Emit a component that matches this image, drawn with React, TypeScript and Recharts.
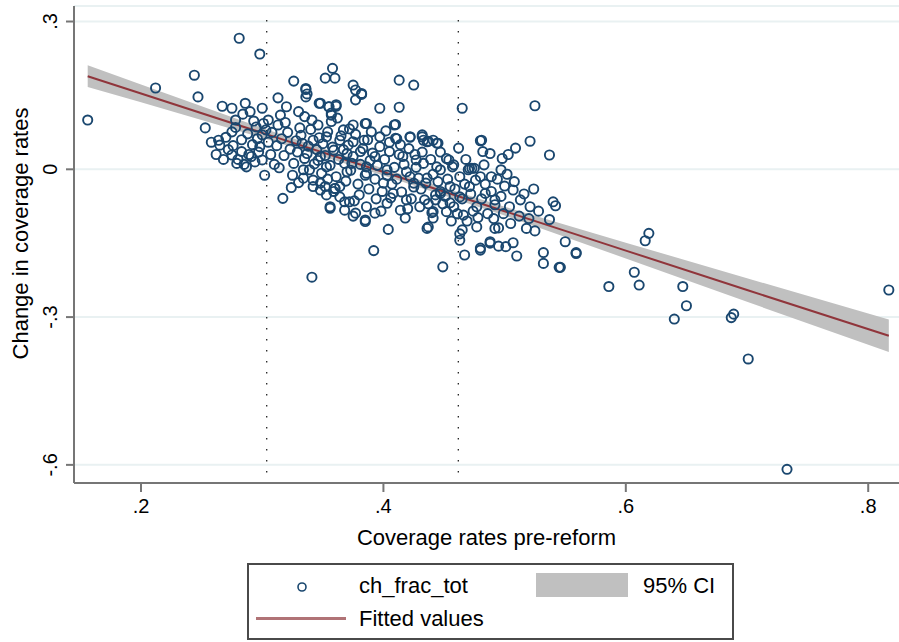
import React from 'react';
import {
  ComposedChart,
  Scatter,
  Area,
  Line,
  XAxis,
  YAxis,
  CartesianGrid,
  ReferenceLine,
  Legend,
  Label,
} from 'recharts';

// ---------- data ----------
const xTicks = [0.2, 0.4, 0.6, 0.8];
const yTicks = [0.3, 0, -0.3, -0.6];
const cutoffs = [0.3037, 0.4618];

const fitX = [0.156, 0.2, 0.3, 0.4, 0.5, 0.6, 0.7, 0.817];
const fitY = [0.189, 0.154, 0.074, -0.0055, -0.085, -0.165, -0.245, -0.338];
const ciLow = [0.167, 0.136, 0.064, -0.0125, -0.094, -0.181, -0.269, -0.371];
const ciHigh = [0.211, 0.172, 0.084, 0.0015, -0.076, -0.149, -0.221, -0.305];

const points: [number, number][] = [
  [0.156, 0.1], [0.212, 0.165], [0.244, 0.191], [0.247, 0.147], [0.253, 0.084],
  [0.258, 0.055], [0.264, 0.059], [0.265, 0.049], [0.267, 0.128], [0.275, 0.076],
  [0.275, 0.124], [0.276, 0.048], [0.275, 0.029], [0.279, 0.012], [0.281, 0.266],
  [0.283, 0.036], [0.286, 0.134], [0.287, 0.005], [0.29, 0.117], [0.291, 0.026],
  [0.295, 0.086], [0.298, 0.234], [0.298, 0.046], [0.3, 0.124], [0.301, 0.093],
  [0.302, -0.012], [0.3, 0.019], [0.326, 0.179], [0.313, 0.145], [0.32, 0.127],
  [0.315, 0.11], [0.313, 0.09], [0.33, 0.117], [0.336, 0.162], [0.336, 0.147],
  [0.348, 0.134], [0.355, 0.127], [0.361, 0.128], [0.357, 0.11], [0.352, 0.185],
  [0.358, 0.205], [0.36, 0.185], [0.375, 0.171], [0.377, 0.161], [0.382, 0.152],
  [0.377, 0.141], [0.397, 0.124], [0.413, 0.181], [0.425, 0.171], [0.413, 0.126],
  [0.385, 0.093], [0.409, 0.09], [0.41, 0.063], [0.422, 0.066], [0.432, 0.066],
  [0.436, 0.056], [0.444, 0.053], [0.465, 0.124], [0.462, 0.043], [0.481, 0.059],
  [0.482, 0.036], [0.488, 0.032],
  [0.317, -0.059], [0.324, -0.037], [0.33, -0.027], [0.342, -0.035], [0.353, -0.052],
  [0.36, -0.039], [0.356, -0.079], [0.368, -0.066], [0.372, -0.066], [0.368, -0.083],
  [0.375, -0.095], [0.385, -0.103], [0.393, -0.089], [0.404, -0.122], [0.392, -0.165],
  [0.341, -0.219], [0.449, -0.198], [0.467, -0.174], [0.463, -0.144], [0.465, -0.123],
  [0.477, -0.117], [0.48, -0.16], [0.488, -0.15], [0.492, -0.12],
  [0.525, 0.129], [0.521, 0.057], [0.537, 0.029], [0.48, 0.058], [0.509, 0.043],
  [0.503, 0.03], [0.498, 0.022], [0.497, -0.001], [0.483, 0.009], [0.471, 0.002],
  [0.475, 0.002], [0.489, -0.015], [0.5, -0.034], [0.507, -0.042], [0.513, -0.062],
  [0.521, -0.076], [0.504, -0.076], [0.492, -0.062], [0.54, -0.066], [0.542, -0.074],
  [0.537, -0.102], [0.518, -0.12], [0.525, -0.125], [0.495, -0.119], [0.488, -0.147],
  [0.495, -0.156], [0.501, -0.157], [0.507, -0.149], [0.48, -0.164], [0.51, -0.176],
  [0.532, -0.169], [0.532, -0.191], [0.545, -0.199], [0.559, -0.169], [0.55, -0.147],
  [0.463, -0.131], [0.437, -0.117], [0.441, -0.086], [0.452, -0.086], [0.441, 0.059],
  [0.433, 0.059], [0.454, 0.019], [0.458, 0.009], [0.447, -0.001], [0.47, -0.001],
  [0.48, -0.015], [0.471, -0.035], [0.484, -0.049], [0.492, -0.072], [0.477, -0.076],
  [0.466, -0.093], [0.458, -0.076], [0.443, -0.062], [0.434, -0.062], [0.455, -0.035],
  [0.463, -0.056], [0.447, -0.045],
  [0.559, -0.171], [0.546, -0.199], [0.586, -0.238], [0.607, -0.209], [0.611, -0.235],
  [0.616, -0.145], [0.619, -0.13], [0.647, -0.238], [0.65, -0.277], [0.64, -0.304],
  [0.689, -0.294], [0.687, -0.301], [0.701, -0.385], [0.733, -0.609], [0.817, -0.245],
  [0.336, 0.164], [0.337, 0.153], [0.382, 0.154], [0.347, 0.134], [0.355, 0.127],
  [0.361, 0.131], [0.357, 0.114], [0.41, 0.091], [0.386, 0.093], [0.375, 0.09],
  [0.367, 0.08], [0.346, 0.09], [0.335, 0.107], [0.411, 0.062], [0.422, 0.065],
  [0.432, 0.07], [0.437, 0.057], [0.445, 0.053], [0.397, 0.066], [0.39, 0.076],
  [0.384, 0.059], [0.375, 0.056], [0.364, 0.059], [0.353, 0.066], [0.342, 0.059],
  [0.333, 0.053], [0.405, 0.036], [0.416, 0.026], [0.427, 0.019], [0.452, 0.022],
  [0.473, 0.002], [0.444, 0.005], [0.393, 0.026], [0.381, 0.036], [0.37, 0.032],
  [0.359, 0.039], [0.348, 0.026], [0.337, 0.032], [0.339, -0.001], [0.353, 0.005],
  [0.37, -0.005], [0.386, 0.005], [0.403, -0.001], [0.422, -0.015], [0.436, -0.018],
  [0.348, -0.028], [0.364, -0.035], [0.359, -0.045], [0.334, -0.001], [0.342, -0.022],
  [0.352, -0.035], [0.36, -0.039], [0.356, -0.076], [0.377, -0.089], [0.385, -0.106],
  [0.418, -0.099], [0.436, -0.12], [0.441, -0.099], [0.374, 0.012], [0.386, -0.008],
  [0.4, -0.028], [0.408, -0.049], [0.419, -0.062], [0.43, -0.076], [0.425, -0.028],
  [0.447, -0.049], [0.403, -0.069], [0.414, -0.083], [0.386, -0.076], [0.364, -0.056],
  [0.348, -0.042],
  [0.27, 0.065], [0.278, 0.085], [0.283, 0.06], [0.288, 0.072], [0.292, 0.05],
  [0.296, 0.062], [0.272, 0.04], [0.28, 0.02], [0.285, 0.01], [0.289, 0.03],
  [0.294, 0.015], [0.297, 0.035], [0.3, 0.07], [0.303, 0.08], [0.305, 0.055],
  [0.307, 0.03], [0.31, 0.01], [0.268, 0.02], [0.262, 0.03], [0.278, 0.1],
  [0.284, 0.112], [0.293, 0.098], [0.305, 0.1], [0.308, 0.075],
  [0.312, 0.048], [0.316, 0.062], [0.318, 0.028], [0.321, 0.075], [0.323, 0.041],
  [0.326, 0.012], [0.328, 0.058], [0.331, 0.084], [0.314, 0.003], [0.325, -0.012],
  [0.319, 0.095], [0.329, 0.035],
  [0.332, 0.069], [0.335, 0.022], [0.338, 0.047], [0.34, 0.081], [0.343, 0.011],
  [0.345, 0.04], [0.347, 0.064], [0.349, -0.008], [0.341, 0.1], [0.334, -0.018],
  [0.346, 0.018], [0.35, 0.052],
  [0.352, 0.028], [0.354, 0.076], [0.356, 0.008], [0.358, 0.045], [0.361, -0.015],
  [0.363, 0.02], [0.365, 0.068], [0.367, 0.04], [0.369, -0.024], [0.357, 0.097],
  [0.362, 0.104], [0.368, 0.012], [0.354, -0.02],
  [0.371, 0.049], [0.373, -0.002], [0.375, 0.026], [0.377, 0.071], [0.379, -0.03],
  [0.381, 0.01], [0.383, 0.042], [0.385, -0.012], [0.387, 0.06], [0.389, 0.018],
  [0.372, 0.082], [0.38, -0.052], [0.388, -0.04], [0.376, -0.064],
  [0.391, 0.033], [0.393, -0.02], [0.395, 0.008], [0.397, 0.046], [0.399, -0.045],
  [0.401, 0.02], [0.403, -0.012], [0.405, 0.055], [0.407, -0.03], [0.409, 0.004],
  [0.394, -0.06], [0.402, 0.078], [0.398, -0.085], [0.406, -0.058],
  [0.411, -0.02], [0.413, 0.03], [0.415, -0.046], [0.417, 0.01], [0.419, -0.005],
  [0.421, 0.042], [0.423, -0.06], [0.425, -0.036], [0.427, 0.004], [0.429, -0.018],
  [0.414, 0.05], [0.42, -0.08], [0.426, 0.03],
  [0.431, -0.04], [0.433, 0.012], [0.435, -0.028], [0.437, -0.07], [0.439, 0.02],
  [0.441, -0.01], [0.443, -0.052], [0.445, -0.025], [0.447, 0.035], [0.449, -0.07],
  [0.432, 0.035], [0.44, -0.088],
  [0.451, -0.055], [0.453, -0.02], [0.455, -0.068], [0.457, 0.005], [0.459, -0.04],
  [0.461, -0.09], [0.463, -0.015], [0.465, -0.06], [0.467, -0.03], [0.469, -0.105],
  [0.456, -0.105], [0.468, 0.02],
  [0.472, -0.05], [0.474, -0.085], [0.476, -0.022], [0.478, -0.098], [0.481, -0.06],
  [0.484, -0.03], [0.486, -0.09], [0.489, -0.045], [0.491, -0.1], [0.494, -0.02],
  [0.497, -0.055], [0.499, -0.09], [0.502, -0.01], [0.505, -0.11], [0.508, -0.025],
  [0.512, -0.095], [0.516, -0.05], [0.52, -0.1], [0.524, -0.04], [0.528, -0.085],
];

// ---------- derived tables ----------
const scatterData = points.map(([x, y]) => ({ x, y }));
const fitData = fitX.map((x, i) => ({ x, fit: fitY[i] }));
const bandData = fitX.map((x, i) => ({ x, range: [ciLow[i], ciHigh[i]] }));

const FONT = '"Liberation Sans", Arial, Helvetica, sans-serif';
const NAVY = '#1a476f';
const MAROON = '#90353b';
const CI_GRAY = '#c0c0c0';
const AXIS_GRAY = '#767676';

const fmt = (v: number) => {
  if (v === 0) return '0';
  const s = String(Math.abs(v)).replace(/^0/, '');
  return (v < 0 ? '-' : '') + s;
};

const HollowCircle = (props: any) => {
  const { cx, cy } = props;
  if (cx == null || cy == null) return null;
  return <circle cx={cx} cy={cy} r={4.6} fill="none" stroke={NAVY} strokeWidth={1.9} />;
};

const YTick = (props: any) => {
  const { x, y, payload } = props;
  const bx = x - 7;
  return (
    <text
      x={bx}
      y={y}
      transform={`rotate(-90 ${bx} ${y})`}
      textAnchor="middle"
      fontFamily={FONT}
      fontSize={20}
      fill="#000"
    >
      {fmt(payload.value)}
    </text>
  );
};

const XTick = (props: any) => {
  const { x, y, payload } = props;
  return (
    <text x={x} y={y + 19} textAnchor="middle" fontFamily={FONT} fontSize={20} fill="#000">
      {fmt(payload.value)}
    </text>
  );
};

const YTitle = (props: any) => {
  const vb = props.viewBox || { y: 6, height: 477 };
  const cx = 28;
  const cy = vb.y + vb.height / 2 - 11;
  return (
    <text
      x={cx}
      y={cy}
      transform={`rotate(-90 ${cx} ${cy})`}
      textAnchor="middle"
      fontFamily={FONT}
      fontSize={22}
      fill="#000"
    >
      Change in coverage rates
    </text>
  );
};

const LegendBox = () => (
  <div
    style={{
      position: 'relative',
      width: 487,
      height: 77,
      boxSizing: 'border-box',
      border: '2px solid #4a4a4a',
      background: '#fff',
      fontFamily: FONT,
      fontSize: 22,
      color: '#000',
    }}
  >
    <svg style={{ position: 'absolute', left: 46, top: 15 }} width={14} height={14}>
      <circle cx={7} cy={7} r={4} fill="none" stroke={NAVY} strokeWidth={1.6} />
    </svg>
    <div style={{ position: 'absolute', left: 110, top: 7, lineHeight: '28px' }}>ch_frac_tot</div>
    <div
      style={{ position: 'absolute', left: 287, top: 8, width: 92, height: 24, background: CI_GRAY }}
    />
    <div style={{ position: 'absolute', left: 394, top: 7, lineHeight: '28px' }}>95% CI</div>
    <div
      style={{ position: 'absolute', left: 7, top: 52, width: 90, height: 3, background: '#b07376' }}
    />
    <div style={{ position: 'absolute', left: 110, top: 40, lineHeight: '28px' }}>Fitted values</div>
  </div>
);

export default function App() {
  return (
    <div style={{ position: 'absolute', left: 0, top: 0, width: 899, height: 642, background: '#fff' }}>
      <ComposedChart
        width={899}
        height={642}
        margin={{ top: 6, right: 0, left: 0, bottom: 99 }}
      >
        <CartesianGrid
          horizontal
          vertical={false}
          stroke="#e9f1f2"
          strokeWidth={2}
        />
        <XAxis
          type="number"
          dataKey="x"
          domain={[0.1447, 0.8254]}
          allowDataOverflow
          ticks={xTicks}
          tick={<XTick />}
          tickSize={9}
          height={60}
          axisLine={{ stroke: AXIS_GRAY, strokeWidth: 2 }}
          tickLine={{ stroke: AXIS_GRAY, strokeWidth: 2 }}
          label={{
            value: 'Coverage rates pre-reform',
            position: 'insideBottom',
            offset: -2,
            fontFamily: FONT,
            fontSize: 22,
            fill: '#000',
          }}
        />
        <YAxis
          type="number"
          domain={[-0.6368, 0.3315]}
          allowDataOverflow
          ticks={yTicks}
          tick={<YTick />}
          tickSize={8}
          width={74}
          axisLine={{ stroke: AXIS_GRAY, strokeWidth: 2 }}
          tickLine={{ stroke: AXIS_GRAY, strokeWidth: 2 }}
        >
          <Label content={<YTitle />} />
        </YAxis>
        {cutoffs.map((c) => (
          <ReferenceLine
            key={c}
            segment={[
              { x: c, y: 0.303 },
              { x: c, y: -0.627 },
            ]}
            stroke="#222"
            strokeWidth={1.3}
            strokeDasharray="1.5 9.5"
          />
        ))}
        <Scatter
          data={scatterData}
          dataKey="y"
          shape={<HollowCircle />}
          isAnimationActive={false}
        />
        <Area
          data={bandData}
          dataKey="range"
          type="linear"
          stroke="none"
          fill={CI_GRAY}
          fillOpacity={1}
          isAnimationActive={false}
        />
        <Line
          data={fitData}
          dataKey="fit"
          type="linear"
          stroke={MAROON}
          strokeWidth={2}
          dot={false}
          isAnimationActive={false}
        />
        <Legend
          layout="vertical"
          align="center"
          verticalAlign="middle"
          wrapperStyle={{ left: 247, top: 563, width: 487, height: 77 }}
          content={() => <LegendBox />}
        />
      </ComposedChart>
    </div>
  );
}
